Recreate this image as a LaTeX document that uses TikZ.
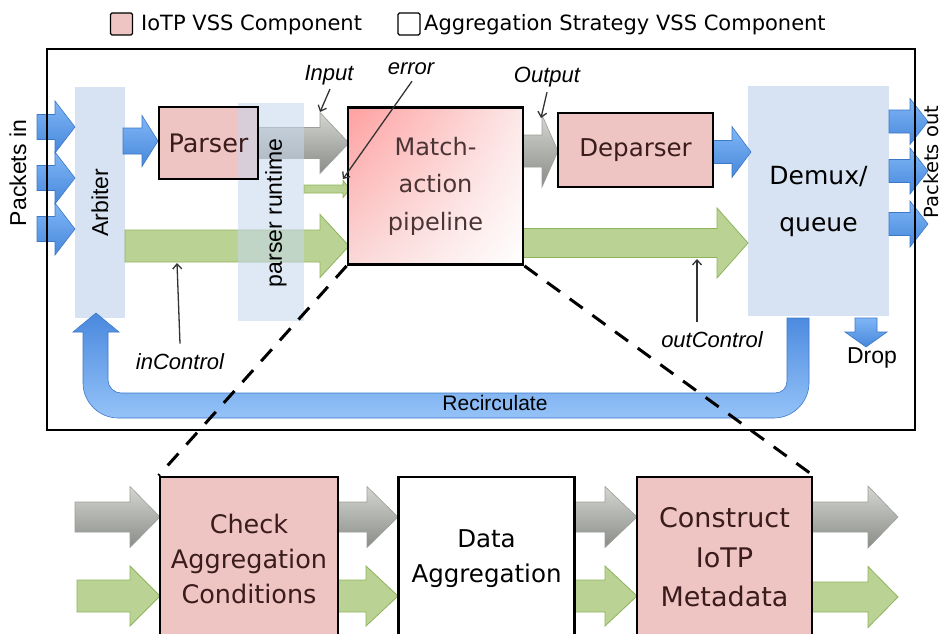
\documentclass[tikz,border=0pt]{standalone}
\usepackage{fontspec}
\setmainfont{DejaVu Sans}
\newfontfamily\arialfont{Liberation Sans}
\usetikzlibrary{arrows.meta,shadings}

\definecolor{pinkfill}{HTML}{EFC5C3}
\definecolor{pinktext}{HTML}{3A1C1C}
\definecolor{matchtext}{HTML}{4A3434}
\definecolor{matchUL}{HTML}{FFA0A0}
\definecolor{matchUR}{HTML}{FCE8E8}
\definecolor{matchLL}{HTML}{FAD8D8}
\definecolor{qblue}{HTML}{D7E3F3}
\definecolor{rtblue}{HTML}{C6D7EE}
\definecolor{arrblueA}{HTML}{80B6F6}
\definecolor{arrblueB}{HTML}{4788DB}
\definecolor{arrblueE}{HTML}{3C78C8}
\definecolor{recA}{HTML}{4A88DE}
\definecolor{recB}{HTML}{95C3F8}
\definecolor{greyA}{HTML}{D4D6D2}
\definecolor{greyB}{HTML}{8A8C88}
\definecolor{greyE}{HTML}{9C9E9A}
\definecolor{greenF}{HTML}{BAD394}
\definecolor{greenE}{HTML}{90B35E}

% horizontal block arrow: style, shaft start x, shaft end x, tip x, centre y, half shaft, half head
\newcommand\blockarrow[7]{%
  \path[#1] (#2,#5-#6) -- (#3,#5-#6) -- (#3,#5-#7) -- (#4,#5)
    -- (#3,#5+#7) -- (#3,#5+#6) -- (#2,#5+#6) -- cycle;}

\tikzset{
  bluearr/.style={draw=arrblueE, line width=0.6pt, top color=arrblueA, bottom color=arrblueB},
  greyarr/.style={draw=greyE, line width=0.6pt, top color=greyA, bottom color=greyB},
  greenarr/.style={draw=greenE, line width=0.8pt, fill=greenF},
  pinkbox/.style={draw=black, line width=2.8pt, fill=pinkfill, text=pinktext,
    align=center, inner sep=0pt},
  whitebox/.style={draw=black, line width=2.8pt, fill=white, text=black,
    align=center, inner sep=0pt},
  qbox/.style={fill=qblue, inner sep=0pt},
  legsq/.style={draw=black, line width=1.3pt, rounded corners=1.5pt,
    minimum width=22pt, minimum height=22pt, inner sep=0pt},
  legtxt/.style={anchor=base west, inner sep=0pt, font=\fontsize{21}{24}\selectfont},
  sanslbl/.style={font=\arialfont\fontsize{23}{26}\selectfont, inner sep=0pt},
  itlbl/.style={font=\arialfont\itshape\fontsize{22}{26}\selectfont, inner sep=0pt},
  callout/.style={draw=black!80, line width=1.3pt,
    -{Straight Barb[length=5pt,width=9pt]}},
  zoomline/.style={draw=black, line width=3pt, dash pattern=on 16pt off 12pt},
}

\begin{document}
\begin{tikzpicture}[x=1pt,y=-1pt]
\useasboundingbox (0,0) rectangle (943,634);
\clip (0,0) rectangle (943,634);
\fill[white] (0,0) rectangle (943,634);

% legend
\node[legsq, fill=pinkfill] (lgpink) at (121.5,24) {};
\node[legtxt] (lgpinktxt) at (141,31) {IoTP VSS Component};
\node[legsq, fill=white] (lgwhite) at (409,24) {};
\node[legtxt] (lgwhitetxt) at (424,31) {Aggregation Strategy VSS Component};

% arbiter and output queue
\node[qbox, rotate=90, minimum width=231, minimum height=50,
  font=\arialfont\fontsize{23}{26}\selectfont] (arb) at (100,202.5) {Arbiter};
\node[qbox, minimum width=141, minimum height=230, align=center,
  font=\fontsize{25}{47}\selectfont] (dmx) at (818.5,201) {Demux/\\queue};

% packets in
\blockarrow{bluearr}{37}{55}{75}{127}{12.5}{26}
\blockarrow{bluearr}{37}{55}{75}{178}{12.5}{26}
\blockarrow{bluearr}{37}{55}{75}{229}{12.5}{26}
\node[sanslbl, rotate=90] (pin) at (18,173) {Packets in};

% packets out
\blockarrow{bluearr}{889}{910}{928}{121.5}{11.5}{23}
\blockarrow{bluearr}{889}{910}{928}{171}{11.5}{23}
\blockarrow{bluearr}{889}{910}{928}{224}{11.5}{23}
\node[rotate=90, inner sep=0pt, font=\fontsize{19.5}{22}\selectfont] (pout) at (931.5,162) {Packets out};

% drop
\path[bluearr] (855,318) -- (877,318) -- (877,332) -- (887,332) -- (866,347)
  -- (845,332) -- (855,332) -- cycle;
\node[sanslbl] (drop) at (872,358) {Drop};

% data path arrows
\blockarrow{bluearr}{123}{142}{158}{141}{13}{25.5}
\blockarrow{greyarr}{258}{320}{349}{143}{15.5}{30.5}
\blockarrow{greenarr}{304}{343}{350}{189}{4}{8.5}
\blockarrow{greenarr}{125}{320}{349}{246}{16}{31.5}
\blockarrow{greyarr}{523}{542}{558}{151}{16}{36}
\blockarrow{bluearr}{713}{732}{751}{152}{11.5}{25.5}
\blockarrow{greenarr}{523}{717}{748}{243}{14.5}{35}

% parser fill, deparser, match-action pipeline
\node[fill=pinkfill, inner sep=0pt, minimum width=99, minimum height=72]
  (parserbg) at (208.5,143) {};
\node[pinkbox, minimum width=155, minimum height=74,
  font=\fontsize{24.5}{30}\selectfont] (deparser) at (635.5,150) {Deparser};
\node[draw=black, line width=2.8pt, inner sep=0pt, minimum width=175, minimum height=157,
  upper left=matchUL, upper right=matchUR, lower left=matchLL, lower right=white,
  align=center, text=matchtext, font=\fontsize{24}{37.5}\selectfont]
  (match) at (435.5,186) {Match-\\action\\pipeline};

% parser runtime overlay, then the parser outline and name on top
\node[fill=rtblue, fill opacity=0.55, inner sep=0pt, minimum width=66, minimum height=218]
  (prt) at (271,212) {};
\node[sanslbl, rotate=90] (prttxt) at (276,213) {parser runtime};
\node[pinkbox, fill=none, minimum width=99, minimum height=72,
  font=\fontsize{25.5}{30}\selectfont] (parser) at (parserbg.center) {Parser};

% recirculation path
\path[draw=arrblueE, line width=0.6pt, top color=recA, bottom color=recB]
  (96,313) -- (119,332) -- (108,332) -- (108,380)
  .. controls (108,387) and (114,393) .. (121,393) -- (775,393)
  .. controls (782,393) and (787,388) .. (787,381) -- (787,318) -- (809,318) -- (809,383)
  .. controls (809,402) and (793,418) .. (774,418) -- (118,418)
  .. controls (99,418) and (83,402) .. (83,383) -- (83,332) -- (73,332) -- cycle;
\node[sanslbl, font=\arialfont\fontsize{21}{24}\selectfont] (recirc) at (495,403) {Recirculate};

% switch frame
\node[draw=black, line width=1.8pt, inner sep=0pt, minimum width=868, minimum height=381]
  (frame) at (481,239.5) {};

% metadata labels
\node[itlbl] (inputlbl) at (329,75) {Input};
\coordinate (inputpt) at (320,112);
\draw[callout] (inputlbl.south) ++(1,4) -- (inputpt);
\node[itlbl] (errorlbl) at (411,69) {error};
\coordinate (errorpt) at (343,179);
\draw[callout] (errorlbl.south) ++(1,6) -- (errorpt);
\node[itlbl] (outputlbl) at (547,77) {Output};
\coordinate (outputpt) at (541,118);
\draw[callout] (outputlbl.south) ++(0,5) -- (outputpt);
\node[itlbl] (inctl) at (180,362) {inControl};
\coordinate (inctlpt) at (177,263);
\draw[callout] (inctl.north) ++(0,-10) -- (inctlpt);
\node[itlbl] (outctl) at (712,340) {outControl};
\coordinate (outctlpt) at (697,259);
\draw[callout] (outctl.north -| outctlpt) ++(0,-10) -- (outctlpt);

% expanded pipeline
\blockarrow{greyarr}{75}{130}{160}{517}{15}{30.5}
\blockarrow{greenarr}{77}{130}{160}{596}{16}{30}
\blockarrow{greyarr}{338}{367}{398}{517}{15}{30.5}
\blockarrow{greenarr}{338}{366}{398}{596}{16}{30}
\blockarrow{greyarr}{573}{605}{637}{517}{15}{30.5}
\blockarrow{greenarr}{573}{605}{637}{596}{16}{30}
\blockarrow{greyarr}{812}{868}{898}{517}{15}{31}
\blockarrow{greenarr}{812}{868}{898}{597}{15}{30.5}

\node[pinkbox, minimum width=178, minimum height=164,
  font=\fontsize{25.5}{35}\selectfont] (check) at (249,559) {Check\\Aggregation\\Conditions};
\node[whitebox, minimum width=176, minimum height=163,
  font=\fontsize{24.5}{35}\selectfont] (dataagg) at (486.5,558.5) {Data\\Aggregation};
\node[pinkbox, minimum width=175, minimum height=161,
  font=\fontsize{27}{39.5}\selectfont] (construct) at (724.5,557.5) {Construct\\IoTP\\Metadata};

% zoom lines
\draw[zoomline] (match.south west) -- (check.north west);
\draw[zoomline] (match.south east) -- (construct.north east);
\end{tikzpicture}
\end{document}
